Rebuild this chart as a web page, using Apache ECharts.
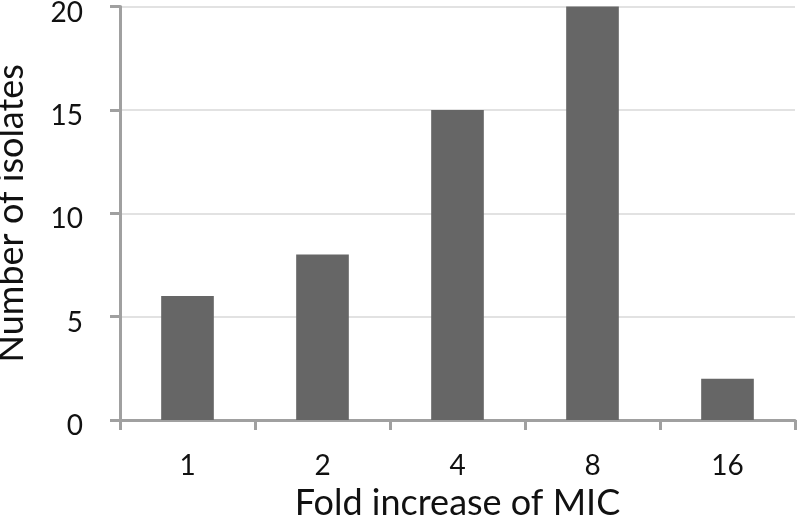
<!DOCTYPE html>
<html><head><meta charset="utf-8">
<script src="https://cdn.jsdelivr.net/npm/echarts@6/dist/echarts.min.js"></script>
<style>html,body{margin:0;padding:0;background:#fff}#c{width:800px;height:524px}</style>
</head><body><div id="c"></div>
<script>
var categories = ['1', '2', '4', '8', '16'];
var values = [6, 8, 15, 20, 2];
var yTicks = {min: 0, max: 20, interval: 5};
var xTitle = 'Fold increase of MIC';
var yTitle = 'Number of isolates';

var chart = echarts.init(document.getElementById('c'), null, {renderer: 'canvas'});
var font = 'Lato, "Open Sans", sans-serif';
chart.setOption({
  animation: false,
  backgroundColor: '#fff',
  grid: {left: 120, right: 5, top: 6.5, bottom: 104, outerBoundsMode: 'none'},
  xAxis: {
    type: 'category', data: categories, boundaryGap: true,
    name: xTitle, nameLocation: 'middle', nameGap: 61,
    nameTextStyle: {fontFamily: font, fontSize: 36, color: '#111'},
    axisLine: {lineStyle: {color: '#a0a0a0', width: 3}},
    axisTick: {show: true, length: 10, lineStyle: {color: '#a0a0a0', width: 3}},
    axisLabel: {fontFamily: font, fontSize: 28, color: '#111', margin: 32}
  },
  yAxis: {
    type: 'value', min: yTicks.min, max: yTicks.max, interval: yTicks.interval,
    name: yTitle, nameLocation: 'middle', nameGap: 91,
    nameTextStyle: {fontFamily: font, fontSize: 36, color: '#111'},
    axisLine: {show: true, lineStyle: {color: '#a0a0a0', width: 3}},
    axisTick: {show: true, length: 10, lineStyle: {color: '#a0a0a0', width: 3}},
    axisLabel: {fontFamily: font, fontSize: 28, color: '#111', margin: 37, verticalAlign: 'top', lineHeight: 12},
    splitLine: {lineStyle: {color: '#d9d9d9', width: 1.5}}
  },
  series: [{
    type: 'bar', data: values, barWidth: '39%',
    itemStyle: {color: '#666666'}
  }]
});
</script></body></html>
